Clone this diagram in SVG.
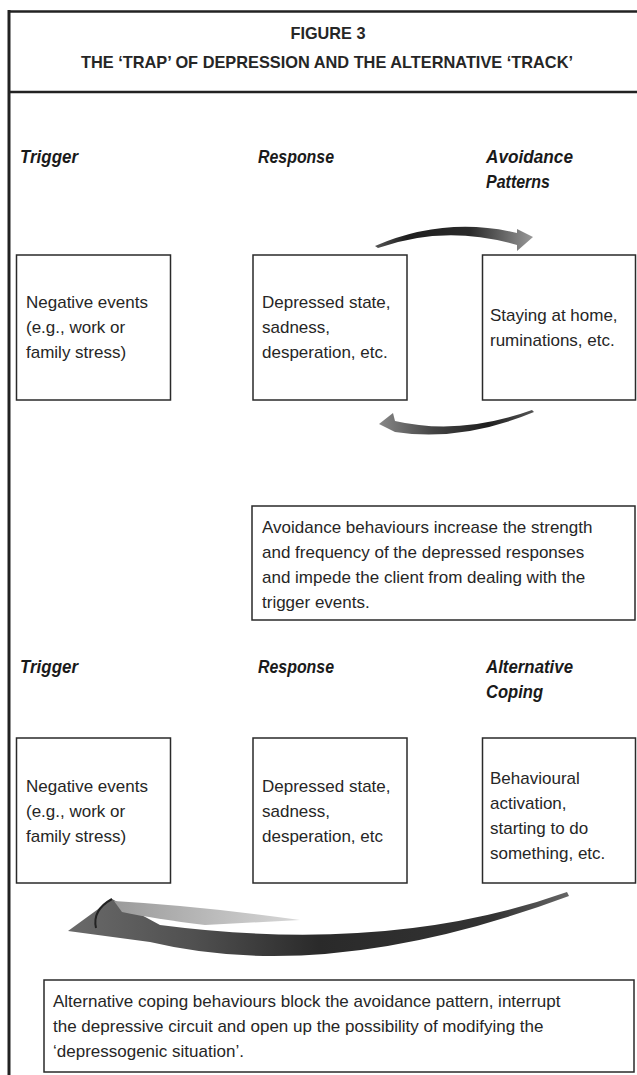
<svg xmlns="http://www.w3.org/2000/svg" width="637" height="1075" viewBox="0 0 637 1075">
<defs>
<style>
.box{fill:#fff;stroke:#2a2a2a;stroke-width:1.5}
.t{font-family:"Liberation Sans",Arial,sans-serif;font-size:17px;fill:#262626}
.lbl{font-family:"Liberation Sans",Arial,sans-serif;font-size:18px;font-weight:bold;font-style:italic;fill:#1a1a1a}
.title{font-family:"Liberation Sans",Arial,sans-serif;font-size:17px;font-weight:bold;fill:#262626;text-anchor:middle}
.frame{stroke:#222;fill:none}
</style>
<linearGradient id="gTop" x1="0" y1="0" x2="1" y2="0">
<stop offset="0" stop-color="#555"/>
<stop offset="0.2" stop-color="#1e1e1e"/>
<stop offset="0.6" stop-color="#2a2a2a"/>
<stop offset="1" stop-color="#999"/>
</linearGradient>
<linearGradient id="gBot" x1="0" y1="0" x2="1" y2="0">
<stop offset="0" stop-color="#888"/>
<stop offset="0.35" stop-color="#444"/>
<stop offset="0.7" stop-color="#1e1e1e"/>
<stop offset="1" stop-color="#555"/>
</linearGradient>
<linearGradient id="gBig" x1="0" y1="0" x2="1" y2="0">
<stop offset="0" stop-color="#6a6a6a"/>
<stop offset="0.25" stop-color="#505050"/>
<stop offset="0.5" stop-color="#2a2a2a"/>
<stop offset="0.85" stop-color="#333"/>
<stop offset="1" stop-color="#666"/>
</linearGradient>
<linearGradient id="gStreak" x1="0" y1="0" x2="1" y2="0">
<stop offset="0" stop-color="#9a9a9a"/>
<stop offset="1" stop-color="#d8d8d8"/>
</linearGradient>
</defs>
<rect width="637" height="1075" fill="#fff"/>

<g id="frame">
<line class="frame" x1="9" y1="10" x2="9" y2="1075" stroke-width="3"/>
<line class="frame" x1="8" y1="11.5" x2="637" y2="11.5" stroke-width="2.5"/>
<line class="frame" x1="8" y1="92" x2="637" y2="92" stroke-width="2.5"/>
</g>

<g id="title">
<text class="title" x="328" y="39" textLength="75" lengthAdjust="spacingAndGlyphs">FIGURE 3</text>
<text class="title" x="327" y="68" textLength="492" lengthAdjust="spacingAndGlyphs">THE ‘TRAP’ OF DEPRESSION AND THE ALTERNATIVE ‘TRACK’</text>
</g>

<g id="labels-row1">
<text class="lbl" x="20" y="163" textLength="58" lengthAdjust="spacingAndGlyphs">Trigger</text>
<text class="lbl" x="258" y="163" textLength="76" lengthAdjust="spacingAndGlyphs">Response</text>
<text class="lbl" x="486" y="163" textLength="87" lengthAdjust="spacingAndGlyphs">Avoidance</text>
<text class="lbl" x="486" y="188" textLength="64" lengthAdjust="spacingAndGlyphs">Patterns</text>
</g>

<g id="trap-trigger">
<rect class="box" x="16.5" y="255" width="154" height="145"/>
<text class="t" x="26" y="308">Negative events</text>
<text class="t" x="26" y="333">(e.g., work or</text>
<text class="t" x="26" y="358">family stress)</text>
</g>
<g id="trap-response">
<rect class="box" x="253" y="255" width="154" height="145"/>
<text class="t" x="262" y="308">Depressed state,</text>
<text class="t" x="262" y="333">sadness,</text>
<text class="t" x="262" y="358">desperation, etc.</text>
</g>
<g id="trap-avoidance">
<rect class="box" x="482.5" y="255" width="153" height="145"/>
<text class="t" x="490" y="321">Staying at home,</text>
<text class="t" x="490" y="346">ruminations, etc.</text>
</g>

<g id="note-trap">
<rect class="box" x="252" y="506" width="383" height="114"/>
<text class="t" x="262" y="533">Avoidance behaviours increase the strength</text>
<text class="t" x="262" y="558">and frequency of the depressed responses</text>
<text class="t" x="262" y="583">and impede the client from dealing with the</text>
<text class="t" x="262" y="608">trigger events.</text>
</g>

<g id="labels-row2">
<text class="lbl" x="20" y="673" textLength="58" lengthAdjust="spacingAndGlyphs">Trigger</text>
<text class="lbl" x="258" y="673" textLength="76" lengthAdjust="spacingAndGlyphs">Response</text>
<text class="lbl" x="486" y="673" textLength="87" lengthAdjust="spacingAndGlyphs">Alternative</text>
<text class="lbl" x="486" y="698" textLength="57" lengthAdjust="spacingAndGlyphs">Coping</text>
</g>

<g id="track-trigger">
<rect class="box" x="16.5" y="738" width="154" height="145"/>
<text class="t" x="26" y="792">Negative events</text>
<text class="t" x="26" y="817">(e.g., work or</text>
<text class="t" x="26" y="842">family stress)</text>
</g>
<g id="track-response">
<rect class="box" x="253" y="738" width="154" height="145"/>
<text class="t" x="262" y="792">Depressed state,</text>
<text class="t" x="262" y="817">sadness,</text>
<text class="t" x="262" y="842">desperation, etc</text>
</g>
<g id="track-coping">
<rect class="box" x="482.5" y="738" width="153" height="145"/>
<text class="t" x="490" y="784">Behavioural</text>
<text class="t" x="490" y="809">activation,</text>
<text class="t" x="490" y="834">starting to do</text>
<text class="t" x="490" y="859">something, etc.</text>
</g>

<g id="note-track">
<rect class="box" x="44" y="980" width="590" height="92"/>
<text class="t" x="53" y="1007">Alternative coping behaviours block the avoidance pattern, interrupt</text>
<text class="t" x="53" y="1032">the depressive circuit and open up the possibility of modifying the</text>
<text class="t" x="53" y="1057">‘depressogenic situation’.</text>
</g>

<g id="connectors">
<path d="M375,246 Q445,216 517,233 L517,229 L533,237 L517,251 L517,245 Q445,224 378,248 Z" fill="url(#gTop)"/>
<path d="M532,410 Q460,436 395,421 L393,413 L379,424 L395,432 Q462,442 534,412 Z" fill="url(#gBot)"/>
<path d="M567,892 Q390,955 160,925 L112,899 L68,931 L150,942 Q330,985 569,896 Z" fill="url(#gBig)"/>
<path d="M114,901 Q200,906 300,920 L205,925 Q155,919 122,912 Z" fill="url(#gStreak)"/>
<path d="M112,899 Q92,910 96,928" fill="none" stroke="#222" stroke-width="2"/>
</g>
</svg>
